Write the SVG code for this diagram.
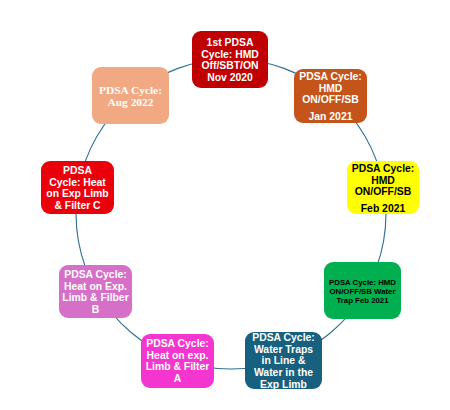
<svg xmlns="http://www.w3.org/2000/svg" width="450" height="410" viewBox="0 0 450 410">
<style>
.bg{fill:#ffffff}
.conn{fill:none;stroke:#2F6F94;stroke-width:1.1}
.box{stroke:none}
.t{font-family:"Liberation Sans","Arial",sans-serif;font-weight:bold;font-size:10.4px;text-anchor:middle;fill:#ffffff}
.dk{fill:#000000}
.sm{font-size:7.8px}
.serif{font-family:"Liberation Serif","Times New Roman",serif;font-size:11.4px}
</style>
<rect class="bg" x="0" y="0" width="450" height="410"/>
<g id="connectors">
<path class="conn" d="M231,59 A155,155 0 0 1 330.6,95.3"/>
<path class="conn" d="M330.6,95.3 A155,155 0 0 1 383.6,187.1"/>
<path class="conn" d="M383.6,187.1 A155,155 0 0 1 365.2,291.5"/>
<path class="conn" d="M365.2,291.5 A155,155 0 0 1 284,359.7"/>
<path class="conn" d="M284,359.7 A155,155 0 0 1 178,359.7"/>
<path class="conn" d="M178,359.7 A155,155 0 0 1 96.8,291.5"/>
<path class="conn" d="M96.8,291.5 A155,155 0 0 1 78.4,187.1"/>
<path class="conn" d="M78.4,187.1 A155,155 0 0 1 131.4,95.3"/>
<path class="conn" d="M131.4,95.3 A155,155 0 0 1 231,59"/>
</g>
<g id="node1">
<rect class="box" x="192" y="31" width="76" height="57" rx="9" fill="#C00000"/>
<text class="t" x="230" y="46">1st PDSA</text>
<text class="t" x="230" y="57.5">Cycle: HMD</text>
<text class="t" x="230" y="69">Off/SBT/ON</text>
<text class="t" x="230" y="80.5">Nov 2020</text>
</g>
<g id="node2">
<rect class="box" x="294" y="69" width="73" height="54" rx="9" fill="#C4541A"/>
<text class="t" x="330.5" y="80">PDSA Cycle:</text>
<text class="t" x="330.5" y="91.5">HMD</text>
<text class="t" x="330.5" y="103">ON/OFF/SB</text>
<text class="t" x="330.5" y="120">Jan 2021</text>
</g>
<g id="node3">
<rect class="box" x="347" y="161" width="72" height="53" rx="9" fill="#FFFF00"/>
<text class="t dk" x="383" y="172">PDSA Cycle:</text>
<text class="t dk" x="383" y="183.5">HMD</text>
<text class="t dk" x="383" y="195">ON/OFF/SB</text>
<text class="t dk" x="383" y="212">Feb 2021</text>
</g>
<g id="node4">
<rect class="box" x="324" y="262" width="77" height="57" rx="9" fill="#00B050"/>
<text class="t dk sm" x="362.5" y="285">PDSA Cycle: HMD</text>
<text class="t dk sm" x="362.5" y="294">ON/OFF/SB Water</text>
<text class="t dk sm" x="362.5" y="302.5">Trap Feb 2021</text>
</g>
<g id="node5">
<rect class="box" x="245" y="332" width="77" height="57" rx="9" fill="#17607F"/>
<text class="t" x="283.5" y="341">PDSA Cycle:</text>
<text class="t" x="283.5" y="353">Water Traps</text>
<text class="t" x="283.5" y="364">in Line &amp;</text>
<text class="t" x="283.5" y="375.5">Water in the</text>
<text class="t" x="283.5" y="387.5">Exp Limb</text>
</g>
<g id="node6">
<rect class="box" x="141" y="334" width="73" height="54" rx="9" fill="#F535CF"/>
<text class="t" x="177.5" y="347">PDSA Cycle:</text>
<text class="t" x="177.5" y="359">Heat on exp.</text>
<text class="t" x="177.5" y="370">Limb &amp; Filter</text>
<text class="t" x="177.5" y="382">A</text>
</g>
<g id="node7">
<rect class="box" x="59" y="265" width="73" height="53" rx="9" fill="#D56FC8"/>
<text class="t" x="95.5" y="278">PDSA Cycle:</text>
<text class="t" x="95.5" y="290">Heat on Exp.</text>
<text class="t" x="95.5" y="301">Limb &amp; Filber</text>
<text class="t" x="95.5" y="313">B</text>
</g>
<g id="node8">
<rect class="box" x="41" y="161" width="73" height="53" rx="9" fill="#E9000B"/>
<text class="t" x="77.5" y="174">PDSA</text>
<text class="t" x="77.5" y="186">Cycle: Heat</text>
<text class="t" x="77.5" y="197">on Exp Limb</text>
<text class="t" x="77.5" y="208.5">&amp; Filter C</text>
</g>
<g id="node9">
<rect class="box" x="92" y="67" width="77" height="57" rx="9" fill="#F1A983"/>
<text class="t serif" x="130.5" y="94">PDSA Cycle:</text>
<text class="t serif" x="130.5" y="105.5">Aug 2022</text>
</g>
</svg>
